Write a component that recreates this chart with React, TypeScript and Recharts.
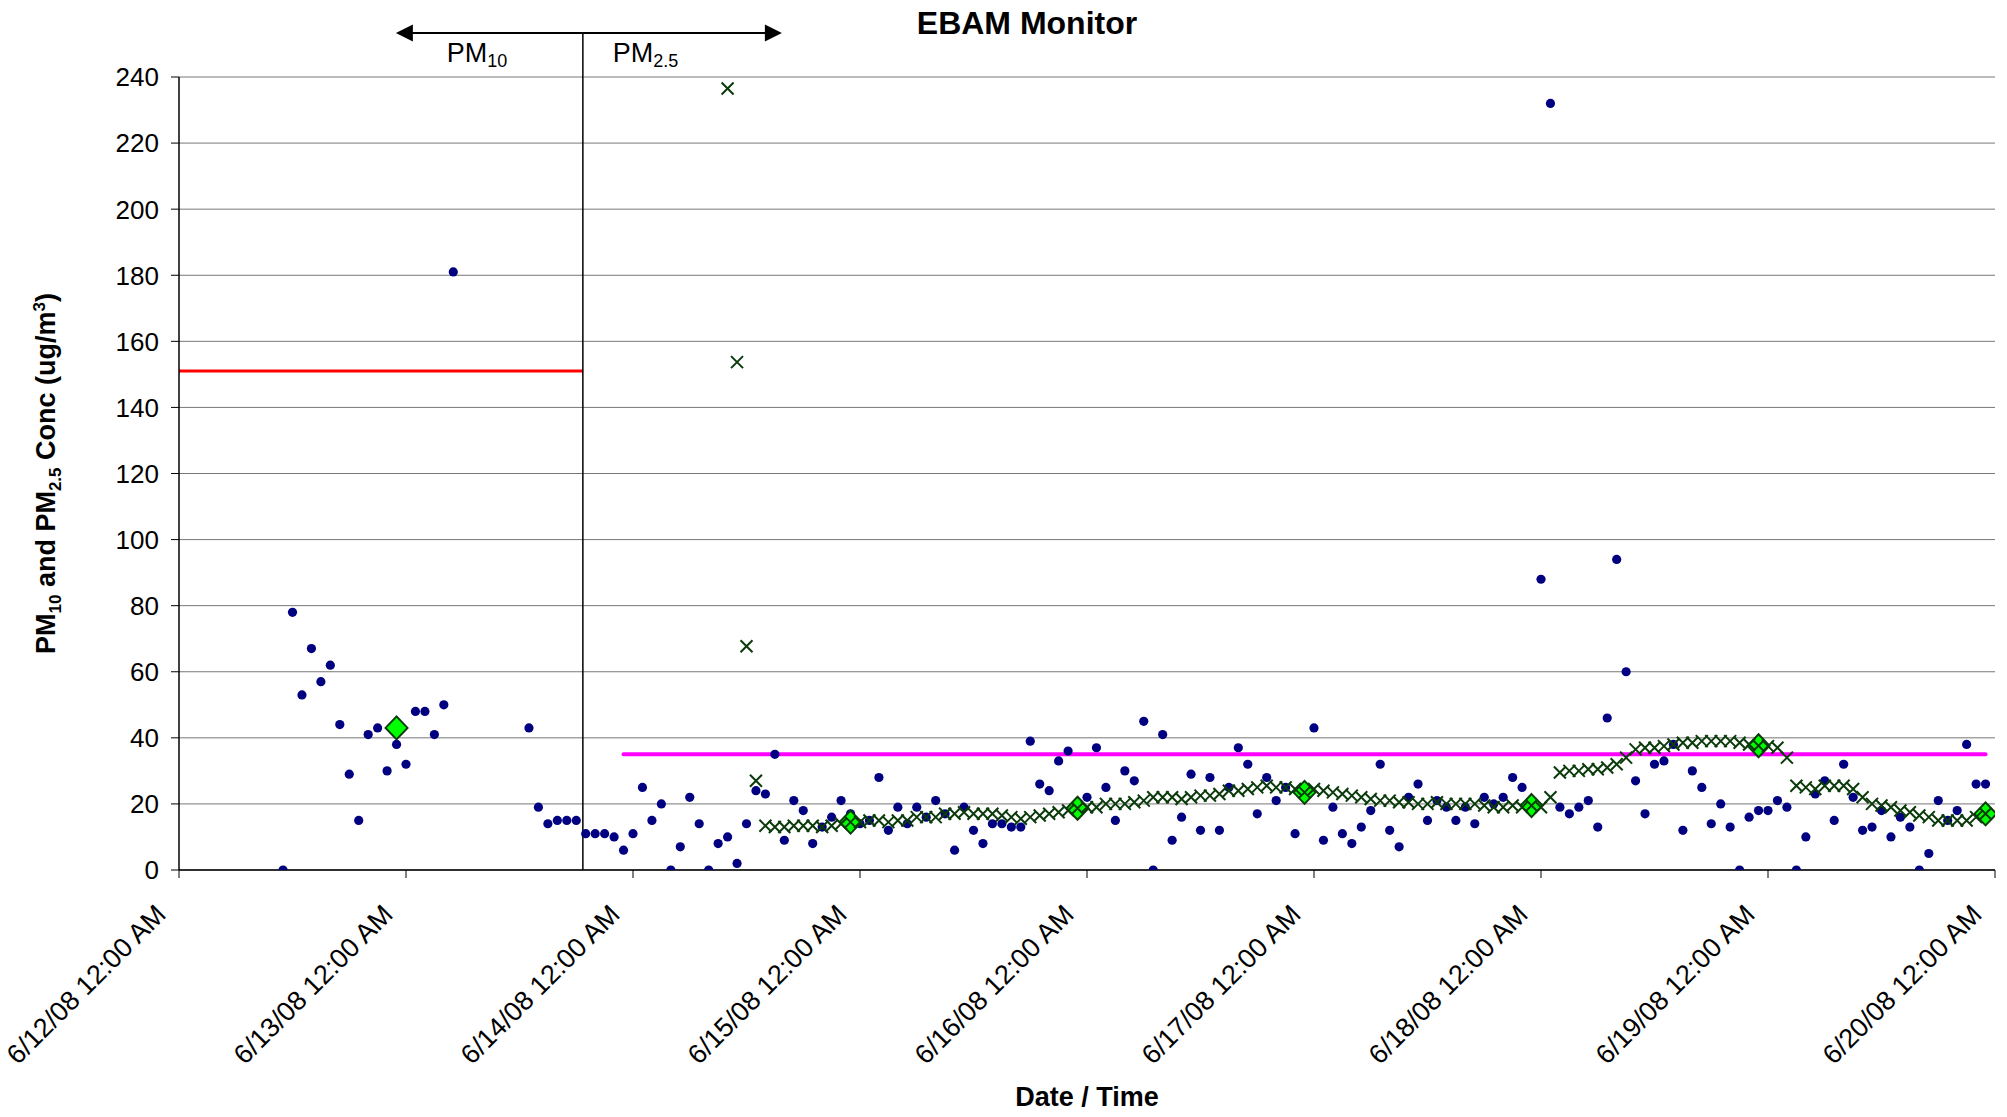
import React from 'react';
import { ScatterChart, Scatter, XAxis, YAxis, CartesianGrid, ReferenceLine } from 'recharts';

// ---- axis ticks (hours since 6/12/08 12:00 AM) ----
const dayTicks = [0, 24, 48, 72, 96, 120, 144, 168, 192];
const dayLabels = [
  '6/12/08 12:00 AM', '6/13/08 12:00 AM', '6/14/08 12:00 AM', '6/15/08 12:00 AM',
  '6/16/08 12:00 AM', '6/17/08 12:00 AM', '6/18/08 12:00 AM', '6/19/08 12:00 AM',
  '6/20/08 12:00 AM',
];
const concTicks = [0, 20, 40, 60, 80, 100, 120, 140, 160, 180, 200, 220, 240];

// ---- hourly EBAM readings [hour, ug/m3] (PM10 before the switch, PM2.5 after) ----
const ebamReadings: [number, number][] = [
  [11, 0], [12, 78], [13, 53], [14, 67], [15, 57], [16, 62], [17, 44], [18, 29], [19, 15], [20, 41],
  [21, 43], [22, 30], [23, 38], [24, 32], [25, 48], [26, 48], [27, 41], [28, 50], [29, 181],
  [37, 43], [38, 19], [39, 14], [40, 15], [41, 15], [42, 15], [43, 11], [44, 11], [45, 11], [46, 10],
  [47, 6], [48, 11], [49, 25], [50, 15], [51, 20], [52, 0], [53, 7], [54, 22], [55, 14], [56, 0],
  [57, 8], [58, 10], [59, 2], [60, 14], [61, 24], [62, 23], [63, 35], [64, 9], [65, 21], [66, 18],
  [67, 8], [68, 13], [69, 16], [70, 21], [71, 17], [72, 14], [73, 15], [74, 28], [75, 12], [76, 19],
  [77, 14], [78, 19], [79, 16], [80, 21], [81, 17], [82, 6], [83, 19], [84, 12], [85, 8], [86, 14],
  [87, 14], [88, 13], [89, 13], [90, 39], [91, 26], [92, 24], [93, 33], [94, 36], [95, 20], [96, 22],
  [97, 37], [98, 25], [99, 15], [100, 30], [101, 27], [102, 45], [103, 0], [104, 41], [105, 9], [106, 16],
  [107, 29], [108, 12], [109, 28], [110, 12], [111, 25], [112, 37], [113, 32], [114, 17], [115, 28], [116, 21],
  [117, 25], [118, 11], [119, 22], [120, 43], [121, 9], [122, 19], [123, 11], [124, 8], [125, 13], [126, 18],
  [127, 32], [128, 12], [129, 7], [130, 22], [131, 26], [132, 15], [133, 21], [134, 19], [135, 15], [136, 19],
  [137, 14], [138, 22], [139, 20], [140, 22], [141, 28], [142, 25], [143, 20], [144, 88], [145, 232], [146, 19],
  [147, 17], [148, 19], [149, 21], [150, 13], [151, 46], [152, 94], [153, 60], [154, 27], [155, 17], [156, 32],
  [157, 33], [158, 38], [159, 12], [160, 30], [161, 25], [162, 14], [163, 20], [164, 13], [165, 0], [166, 16],
  [167, 18], [168, 18], [169, 21], [170, 19], [171, 0], [172, 10], [173, 23], [174, 27], [175, 15], [176, 32],
  [177, 22], [178, 12], [179, 13], [180, 18], [181, 10], [182, 16], [183, 13], [184, 0], [185, 5], [186, 21],
  [187, 15], [188, 18], [189, 38], [190, 26], [191, 26],
];

// ---- 24-hr running average of PM2.5 [hour, ug/m3] ----
const runningAvg: [number, number][] = [
  [58, 236.5], [59, 153.7], [60, 67.7], [61, 27], [62, 13.4], [63, 13], [64, 13], [65, 13.4], [66, 13.4],
  [67, 13.4], [68, 13], [69, 13.4], [70, 14], [71, 14.5], [72, 14.5], [73, 15], [74, 15], [75, 14.5],
  [76, 15], [77, 15], [78, 16], [79, 16], [80, 16], [81, 17], [82, 17], [83, 17.5], [84, 17], [85, 17],
  [86, 17], [87, 16.5], [88, 16], [89, 15.5], [90, 16], [91, 16.5], [92, 17], [93, 17.5], [94, 18],
  [95, 18.7], [96, 19], [97, 19], [98, 20], [99, 20], [100, 20], [101, 20.5], [102, 21], [103, 22],
  [104, 22], [105, 22], [106, 21.5], [107, 22], [108, 22.5], [109, 22.5], [110, 23], [111, 24], [112, 24],
  [113, 24.5], [114, 25], [115, 25.5], [116, 25], [117, 25], [118, 24.5], [119, 23.5], [120, 24.5],
  [121, 24], [122, 23.5], [123, 23], [124, 22.5], [125, 22], [126, 21.5], [127, 21], [128, 21],
  [129, 20.5], [130, 20.5], [131, 20], [132, 20], [133, 20.5], [134, 20], [135, 20], [136, 20], [137, 20],
  [138, 19.5], [139, 19], [140, 19], [141, 19.5], [142, 19], [143, 19.5], [144, 19], [145, 22],
  [146, 29.5], [147, 30], [148, 30], [149, 30.5], [150, 30.5], [151, 31], [152, 32], [153, 34],
  [154, 36.5], [155, 37], [156, 37], [157, 37.5], [158, 38], [159, 38.5], [160, 38.5], [161, 39],
  [162, 39], [163, 39], [164, 39], [165, 38.5], [166, 38], [167, 37.6], [168, 37.5], [169, 37], [170, 34],
  [171, 25.5], [172, 25], [173, 24.5], [174, 25.5], [175, 25.5], [176, 25.5], [177, 24.5], [178, 22],
  [179, 20], [180, 19.5], [181, 19], [182, 18], [183, 17.5], [184, 16.5], [185, 16], [186, 15], [187, 15],
  [188, 15], [189, 15], [190, 16], [191, 17],
];

// ---- daily averages [hour, ug/m3] ----
const dailyAvg: [number, number][] = [
  [23, 43], [71, 14.5], [95, 18.7], [119, 23.5], [143, 19.5], [167, 37.6], [191, 17],
];

// ---- standards and PM10 -> PM2.5 switch (hours / ug/m3) ----
const pm10Standard = { from: 0, to: 42.7, value: 151 };
const pm25Standard = { from: 47, to: 191, value: 35 };
const switchHour = 42.7;

const toPoints = (rows: [number, number][]) => rows.map(([t, v]) => ({ t, v }));
const ebamData = toPoints(ebamReadings);
const avgData = toPoints(runningAvg);
const dailyData = toPoints(dailyAvg);

const FONT = '"Liberation Sans", Arial, Helvetica, sans-serif';

const DotShape = (p: any) => <circle cx={p.cx} cy={p.cy} r={4.6} fill="#000080" />;
const XShape = (p: any) => {
  const { cx, cy } = p;
  const s = 6;
  return (
    <path
      d={`M${cx - s},${cy - s}L${cx + s},${cy + s}M${cx - s},${cy + s}L${cx + s},${cy - s}`}
      stroke="#0b3b0b"
      strokeWidth={2}
      fill="none"
    />
  );
};
const DiamondShape = (p: any) => {
  const { cx, cy } = p;
  const w = 11;
  const h = 11.5;
  return (
    <polygon
      points={`${cx},${cy - h} ${cx + w},${cy} ${cx},${cy + h} ${cx - w},${cy}`}
      fill="#00FF00"
      stroke="#0b3b0b"
      strokeWidth={2}
    />
  );
};

const XTick = (p: any) => {
  const idx = dayTicks.indexOf(p.payload.value);
  const ex = p.x - 11.5;
  const ey = p.y + 38;
  return (
    <text
      x={ex}
      y={ey}
      textAnchor="end"
      transform={`rotate(-45 ${ex} ${ey})`}
      fontSize={27}
      fontFamily={FONT}
      fill="#000"
    >
      {idx >= 0 ? dayLabels[idx] : ''}
    </text>
  );
};

const YTick = (p: any) => (
  <text x={p.x} y={p.y} dy="0.36em" textAnchor="end" fontSize={26} fontFamily={FONT} fill="#000">
    {p.payload.value}
  </text>
);

const SwitchMarker = (p: any) => {
  const x = p.x1;
  const yBottom = Math.max(p.y1, p.y2);
  const yTop = 33;
  const left = x - 187;
  const right = x + 199;
  return (
    <g>
      <line x1={x} y1={yTop} x2={x} y2={yBottom} stroke="#000" strokeWidth={1.5} />
      <line x1={left + 14} y1={yTop} x2={right - 14} y2={yTop} stroke="#000" strokeWidth={2} />
      <polygon points={`${left},${yTop} ${left + 17},${yTop - 8.5} ${left + 17},${yTop + 8.5}`} fill="#000" />
      <polygon points={`${right},${yTop} ${right - 17},${yTop - 8.5} ${right - 17},${yTop + 8.5}`} fill="#000" />
      <text x={x - 136} y={62} fontSize={27} fontFamily={FONT} fill="#000">
        PM<tspan fontSize={18} dy={5}>10</tspan>
      </text>
      <text x={x + 30} y={62} fontSize={27} fontFamily={FONT} fill="#000">
        PM<tspan fontSize={18} dy={5}>2.5</tspan>
      </text>
    </g>
  );
};

export default function App() {
  const W = 2007;
  const H = 1117;
  return (
    <div style={{ position: 'relative', left: -8, top: -8, width: W, height: H, background: '#fff' }}>
      <ScatterChart width={W} height={H} margin={{ top: 77, right: 12, bottom: 0, left: 0 }}>
        <CartesianGrid vertical={false} stroke="#777" strokeWidth={1} />
        <XAxis
          type="number"
          dataKey="t"
          domain={[0, 192]}
          ticks={dayTicks}
          interval={0}
          height={247}
          tickSize={8}
          tickMargin={0}
          axisLine={{ stroke: '#000', strokeWidth: 1.5 }}
          tickLine={{ stroke: '#000' }}
          tick={<XTick />}
          allowDataOverflow
        />
        <YAxis
          type="number"
          dataKey="v"
          domain={[0, 240]}
          ticks={concTicks}
          interval={0}
          width={179}
          tickSize={8}
          tickMargin={12}
          axisLine={{ stroke: '#000', strokeWidth: 1.5 }}
          tickLine={{ stroke: '#000' }}
          tick={<YTick />}
          allowDataOverflow
        />
        <ReferenceLine
          segment={[{ x: pm10Standard.from, y: pm10Standard.value }, { x: pm10Standard.to, y: pm10Standard.value }]}
          stroke="#FF0000"
          strokeWidth={3}
        />
        <ReferenceLine
          segment={[{ x: pm25Standard.from, y: pm25Standard.value }, { x: pm25Standard.to, y: pm25Standard.value }]}
          stroke="#FF00FF"
          strokeWidth={4}
          strokeLinecap="round"
        />
        <ReferenceLine x={switchHour} stroke="#000" shape={<SwitchMarker />} />
        <Scatter data={ebamData} shape={<DotShape />} isAnimationActive={false} />
        <Scatter data={dailyData} shape={<DiamondShape />} isAnimationActive={false} />
        <Scatter data={avgData} shape={<XShape />} isAnimationActive={false} />
      </ScatterChart>
      <svg
        width={W}
        height={H}
        style={{ position: 'absolute', left: 0, top: 0, pointerEvents: 'none' }}
      >
        <text x={1027} y={34} textAnchor="middle" fontSize={32} fontWeight="bold" fontFamily={FONT} fill="#000">
          EBAM Monitor
        </text>
        <text x={1087} y={1106} textAnchor="middle" fontSize={27} fontWeight="bold" fontFamily={FONT} fill="#000">
          Date / Time
        </text>
        <text
          x={55}
          y={473.5}
          textAnchor="middle"
          transform="rotate(-90 55 473.5)"
          fontSize={27}
          fontWeight="bold"
          fontFamily={FONT}
          fill="#000"
        >
          PM<tspan fontSize={17} dy={6}>10</tspan>
          <tspan dy={-6}> and PM</tspan>
          <tspan fontSize={17} dy={6}>2.5</tspan>
          <tspan dy={-6}> Conc (ug/m</tspan>
          <tspan fontSize={17} dy={-10}>3</tspan>
          <tspan dy={10}>)</tspan>
        </text>
      </svg>
    </div>
  );
}
